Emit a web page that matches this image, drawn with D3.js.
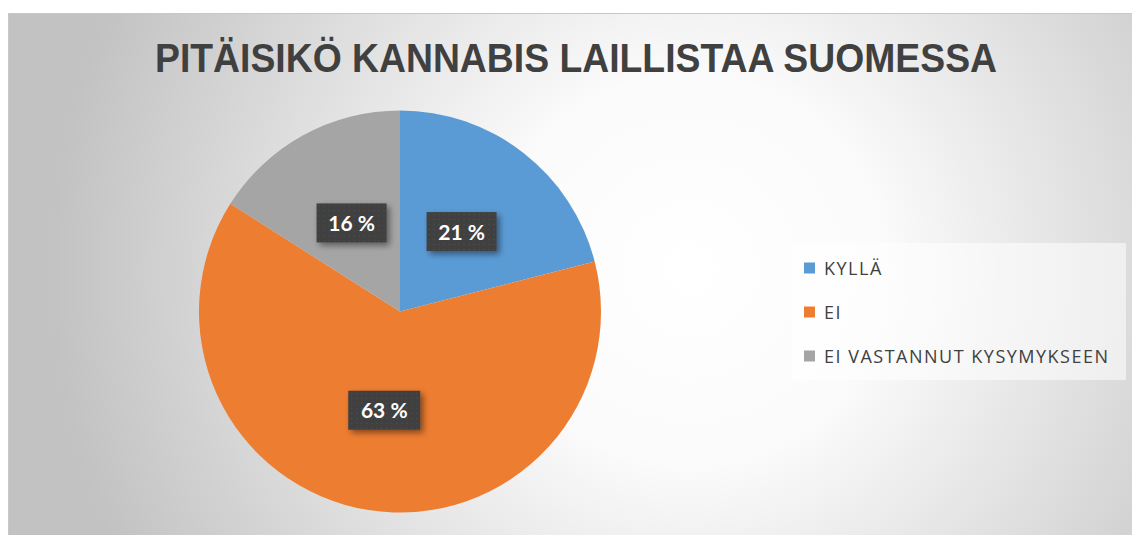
<!DOCTYPE html>
<html>
<head>
<meta charset="utf-8">
<script src="https://cdn.jsdelivr.net/npm/d3@7"></script>
<style>
  html, body { margin: 0; padding: 0; background: #ffffff; }
  #chart { width: 1132px; height: 535px; }
</style>
</head>
<body>
<div id="chart"></div>
<script>
// chart values
const categories = ["KYLLÄ", "EI", "EI VASTANNUT KYSYMYKSEEN"];
const shares = [21, 63, 16];
const sliceColors = ["#5b9bd5", "#ed7d31", "#a5a5a5"];
const chartTitle = "PITÄISIKÖ KANNABIS LAILLISTAA SUOMESSA";

const width = 1132, height = 535;

const svg = d3.select("#chart").append("svg")
    .attr("width", width)
    .attr("height", height);

const defs = svg.append("defs");

// background radial gradient, light in the middle, gray at edges
const bg = defs.append("radialGradient")
    .attr("id", "bgGrad")
    .attr("gradientUnits", "userSpaceOnUse")
    .attr("cx", 690).attr("cy", 270).attr("r", 640);
bg.append("stop").attr("offset", 0).attr("stop-color", "#ffffff");
bg.append("stop").attr("offset", 0.3).attr("stop-color", "#fbfbfb");
bg.append("stop").attr("offset", 1).attr("stop-color", "#c2c2c2");

// dotted dark pattern for data labels
const pat = defs.append("pattern")
    .attr("id", "dots")
    .attr("patternUnits", "userSpaceOnUse")
    .attr("width", 5).attr("height", 5);
pat.append("rect").attr("width", 5).attr("height", 5).attr("fill", "#3f3f3f");
pat.append("rect").attr("x", 2).attr("y", 2).attr("width", 1).attr("height", 1).attr("fill", "#575757");

const shadow = defs.append("filter")
    .attr("id", "shadow")
    .attr("x", "-30%").attr("y", "-30%").attr("width", "160%").attr("height", "160%");
shadow.append("feDropShadow")
    .attr("dx", 3).attr("dy", 3).attr("stdDeviation", 3)
    .attr("flood-color", "#000").attr("flood-opacity", 0.45);

// chart area
svg.append("rect")
    .attr("x", 8.5).attr("y", 13.5)
    .attr("width", 1140).attr("height", 540)
    .attr("fill", "url(#bgGrad)")
    .attr("stroke", "#c8c8c8")
    .attr("stroke-width", 1);

// title
const title = svg.append("text")
    .attr("x", 576)
    .attr("y", 72)
    .attr("text-anchor", "middle")
    .style("font-family", "'Liberation Sans', Arial, sans-serif")
    .style("font-weight", "bold")
    .style("font-size", "41px")
    .style("fill", "#404040")
    .text(chartTitle);
title.attr("textLength", 842).attr("lengthAdjust", "spacingAndGlyphs");

// pie
const cx = 400, cy = 311.5, radius = 201;
const data = categories.map((c, i) => ({ name: c, value: shares[i], color: sliceColors[i] }));

const pie = d3.pie().sort(null).value(d => d.value);
const arc = d3.arc().innerRadius(0).outerRadius(radius);

const pieG = svg.append("g").attr("transform", `translate(${cx},${cy})`);

pieG.selectAll(".slice")
    .data(pie(data))
    .enter().append("path")
    .attr("class", "slice")
    .attr("d", arc)
    .attr("fill", d => d.data.color);

// data labels
const labels = pieG.selectAll(".lbl")
    .data(pie(data))
    .enter().append("g")
    .attr("class", "lbl")
    .attr("transform", d => `translate(${arc.centroid(d)})`);

labels.append("rect")
    .attr("x", d => d.data.value === 63 ? -36 : -35)
    .attr("y", -20)
    .attr("width", d => d.data.value === 63 ? 72 : 70)
    .attr("height", 39)
    .attr("fill", "url(#dots)")
    .attr("filter", "url(#shadow)");

labels.append("text")
    .attr("text-anchor", "middle")
    .attr("y", 7.5)
    .style("font-family", "Lato, 'Open Sans', sans-serif")
    .style("font-weight", "bold")
    .style("font-size", "21px")
    .style("fill", "#ffffff")
    .text(d => d.data.value + " %");

// legend
const legend = svg.append("g");
legend.append("rect")
    .attr("x", 792).attr("y", 243)
    .attr("width", 334).attr("height", 137)
    .attr("fill", "#ffffff")
    .attr("fill-opacity", 0.55);

const legendY = d3.scalePoint()
    .domain(categories)
    .range([268, 356]);

const items = legend.selectAll(".item")
    .data(data)
    .enter().append("g")
    .attr("class", "item")
    .attr("transform", d => `translate(804,${legendY(d.name)})`);

items.append("rect")
    .attr("x", 0).attr("y", -5.5)
    .attr("width", 11).attr("height", 11)
    .attr("fill", d => d.color);

items.append("text")
    .attr("x", 20)
    .attr("y", 6.5)
    .style("font-family", "'Open Sans', Lato, sans-serif")
    .style("font-size", "18px")
    .style("letter-spacing", "1.5px")
    .style("fill", "#404040")
    .text(d => d.name);
</script>
</body>
</html>
